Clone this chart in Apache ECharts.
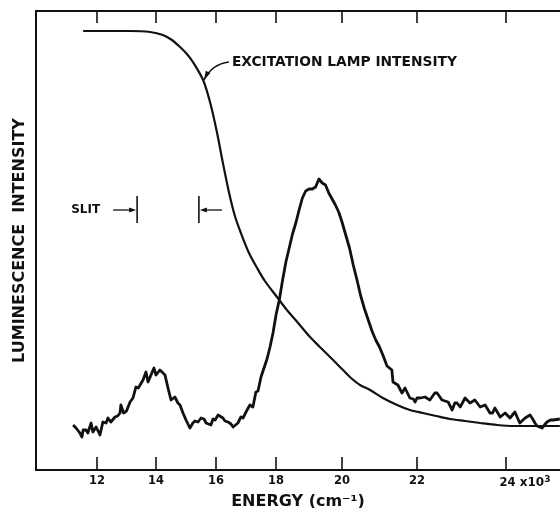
<!DOCTYPE html>
<html>
<head>
<meta charset="utf-8">
<script src="https://cdn.jsdelivr.net/npm/echarts@6/dist/echarts.min.js"></script>
<style>
  html, body { margin: 0; background: #fff; }
  #chart { width: 560px; height: 508px; }
</style>
</head>
<body>
<div id="chart"></div>
<script>
// energy ticks (x10^3 cm^-1) and where they sit along the printed axis
// (the printed energy axis is not uniform, so the axis runs in these units)
const tickEnergy = [12, 14, 16, 18, 20, 22, 24]
const tickPlace = [0, 59, 119, 179, 245, 320, 409]

// excitation lamp intensity curve
const lampEnergy = [11.53, 12.44, 13.12, 13.80, 14.23, 14.53, 14.80, 15.03, 15.23, 15.57, 15.80, 16.03, 16.23, 16.43, 16.63, 16.83, 17.10, 17.37, 17.63, 18.03, 18.33, 18.67, 19.03, 19.33, 19.73, 20.00, 20.21, 20.48, 20.75, 21.09, 21.47, 21.81, 22.13, 22.43, 22.74, 23.08, 23.42, 23.80, 24.16, 24.54, 25.21]
const lampIntensity = [439, 439, 439, 438, 435, 430, 423, 416, 408, 390, 368, 338, 307, 278, 254, 237, 217, 202, 189, 173, 160, 147, 133, 123, 110, 101, 93, 85, 80, 72, 65, 60, 57, 54, 51, 49, 47, 45, 44, 44, 44]

// luminescence spectrum
const lumEnergy = [
  11.19, 11.29, 11.42, 11.49, 11.53, 11.63, 11.69, 11.80, 11.86, 11.97,
  12.10, 12.20, 12.31, 12.37, 12.47, 12.61, 12.70, 12.78, 12.81, 12.90,
  12.95, 13.00, 13.12, 13.22, 13.32, 13.40, 13.46, 13.56, 13.66, 13.73,
  13.83, 13.93, 14.00, 14.13, 14.20, 14.30, 14.40, 14.50, 14.63, 14.73,
  14.80, 14.90, 15.00, 15.13, 15.23, 15.30, 15.40, 15.50, 15.60, 15.67,
  15.83, 15.90, 15.97, 16.07, 16.23, 16.30, 16.40, 16.50, 16.57, 16.73,
  16.83, 16.90, 17.00, 17.13, 17.23, 17.33,
  17.4, 17.5, 17.6, 17.7, 17.8, 17.9, 18.0, 18.1, 18.2, 18.3,
  18.4, 18.5, 18.6, 18.7, 18.8, 18.9, 19.0, 19.1, 19.2, 19.3,
  19.4, 19.5, 19.6, 19.7, 19.8, 19.9, 20.0, 20.1, 20.2, 20.3,
  20.4, 20.5, 20.6, 20.7, 20.8, 20.9, 21.0, 21.1, 21.2,
  21.33, 21.36, 21.49, 21.60, 21.68, 21.81, 21.90, 21.95, 22.00, 22.07,
  22.18, 22.29, 22.40, 22.45, 22.50, 22.56, 22.70, 22.79, 22.85, 22.90,
  22.97, 23.08, 23.19, 23.30, 23.42, 23.53, 23.64, 23.70, 23.75, 23.87,
  23.98, 24.09, 24.20, 24.31, 24.43, 24.54, 24.60, 24.65, 24.70, 24.81,
  24.92, 25.00, 25.06, 25.21
]
const lumIntensity = [
  45, 42, 37, 33, 40, 40, 37, 47, 38, 43,
  35, 48, 47, 52, 48, 53, 54, 57, 65, 57,
  55, 59, 68, 72, 83, 82, 85, 90, 98, 88,
  95, 102, 95, 100, 98, 95, 82, 70, 73, 67,
  65, 57, 50, 42, 47, 49, 48, 52, 51, 47,
  45, 51, 50, 55, 52, 49, 48, 46, 43, 47,
  53, 52, 58, 65, 63, 78,
  79, 93, 102, 111, 123, 137, 155, 170, 190, 208,
  222, 236, 247, 260, 272, 279, 281, 281, 283, 291,
  287, 285, 277, 271, 265, 258, 248, 235, 222, 205,
  190, 174, 161, 150, 139, 130, 123, 114, 104,
  100, 88, 85, 77, 82, 72, 71, 68, 72, 72,
  73, 70, 77, 77, 74, 70, 68, 60, 67, 67,
  63, 72, 67, 70, 63, 65, 57, 57, 62, 53,
  57, 52, 58, 47, 52, 55, 51, 47, 44, 42,
  48, 50, 50, 51
]

// slit width marker and the lamp label anchor
const slitEdges = [13.36, 15.43]
const slitLevel = 260
const lampLabelAt = [16.53, 408]
const lampArrowTip = [15.6, 390]

const ink = '#111'

// energy -> axis position, piecewise along the printed ticks
function toAxis(e) {
  const n = tickEnergy.length
  let i = 1
  while (i < n - 1 && e > tickEnergy[i]) i++
  const e0 = tickEnergy[i - 1], e1 = tickEnergy[i]
  const p0 = tickPlace[i - 1], p1 = tickPlace[i]
  return p0 + (e - e0) * (p1 - p0) / (e1 - e0)
}

function tickLabel(v) {
  const i = tickPlace.indexOf(v)
  if (i < 0) return ''
  if (i === tickPlace.length - 1) return '{pad|}' + tickEnergy[i] + '{x| x10}{sup|3}'
  return String(tickEnergy[i])
}

const chartRef = document.getElementById('chart')
const chart = echarts.init(chartRef)

const option = {
  animation: false,
  backgroundColor: '#fff',
  grid: { left: 36, right: 0, top: 11, bottom: 38, outerBoundsMode: 'none', containLabel: false },
  xAxis: [
    {
      type: 'value',
      min: -61,
      max: 463,
      name: 'ENERGY (cm⁻¹)',
      nameLocation: 'middle',
      nameGap: 20,
      nameTextStyle: { color: ink, fontFamily: 'DejaVu Sans', fontWeight: 'bold', fontSize: 16 },
      axisLine: { lineStyle: { color: ink, width: 2 } },
      axisTick: { inside: true, length: 13, customValues: tickPlace, lineStyle: { color: ink, width: 1.6 } },
      axisLabel: {
        customValues: tickPlace,
        formatter: tickLabel,
        color: ink,
        fontFamily: 'DejaVu Sans',
        fontWeight: 'bold',
        fontSize: 11.5,
        margin: 5,
        rich: {
          pad: { width: 38 },
          x: { fontFamily: 'DejaVu Sans', fontWeight: 'bold', fontSize: 12, color: ink },
          sup: { fontFamily: 'DejaVu Sans', fontWeight: 'bold', fontSize: 9, color: ink, padding: [0, 0, 7, 0] }
        }
      },
      splitLine: { show: false }
    },
    {
      type: 'value',
      position: 'top',
      min: -61,
      max: 463,
      axisLine: { lineStyle: { color: ink, width: 2 } },
      axisTick: { inside: true, length: 12, customValues: tickPlace, lineStyle: { color: ink, width: 1.6 } },
      axisLabel: { show: false },
      splitLine: { show: false }
    }
  ],
  yAxis: {
    type: 'value',
    min: 0,
    max: 459,
    name: 'LUMINESCENCE  INTENSITY',
    nameLocation: 'middle',
    nameGap: 8,
    nameTextStyle: { color: ink, fontFamily: 'DejaVu Sans', fontWeight: 'bold', fontSize: 16 },
    axisLine: { show: true, onZero: false, lineStyle: { color: ink, width: 2 } },
    axisTick: { show: false },
    axisLabel: { show: false },
    splitLine: { show: false }
  },
  series: [
    {
      name: 'lamp',
      type: 'line',
      xAxisIndex: 0,
      data: lampEnergy.map((e, i) => [toAxis(e), lampIntensity[i]]),
      smooth: 0.3,
      symbol: 'none',
      lineStyle: { color: ink, width: 2.2 }
    },
    {
      name: 'luminescence',
      type: 'line',
      xAxisIndex: 0,
      data: lumEnergy.map((e, i) => [toAxis(e), lumIntensity[i]]),
      symbol: 'none',
      lineStyle: { color: ink, width: 2.8, join: 'round' }
    }
  ]
}

chart.setOption(option)

// annotations placed from data coordinates
function px(e, v) {
  return chart.convertToPixel({ xAxisIndex: 0, yAxisIndex: 0 }, [toAxis(e), v])
}

function arrowHead(tip, from, len, half) {
  const dx = tip[0] - from[0], dy = tip[1] - from[1]
  const d = Math.hypot(dx, dy)
  const ux = dx / d, uy = dy / d
  const bx = tip[0] - ux * len, by = tip[1] - uy * len
  return {
    type: 'polygon',
    shape: { points: [tip, [bx - uy * half, by + ux * half], [bx + uy * half, by - ux * half]] },
    style: { fill: ink }
  }
}

const lab = px(lampLabelAt[0], lampLabelAt[1])
const tip = px(lampArrowTip[0], lampArrowTip[1])
const start = [lab[0] - 3, lab[1]]
const ctrl = [tip[0] + 8, lab[1] + 2]

const s1 = px(slitEdges[0], slitLevel)
const s2 = px(slitEdges[1], slitLevel)

chart.setOption({
  graphic: [
    {
      type: 'text',
      x: lab[0], y: lab[1],
      style: { text: 'EXCITATION LAMP INTENSITY', fill: ink, font: 'bold 13.8px "DejaVu Sans"', align: 'left', verticalAlign: 'middle' }
    },
    {
      type: 'bezierCurve',
      shape: { x1: start[0], y1: start[1], x2: tip[0], y2: tip[1], cpx1: ctrl[0], cpy1: ctrl[1] },
      style: { stroke: ink, lineWidth: 1.5, fill: null }
    },
    arrowHead(tip, ctrl, 9, 2.6),
    // slit marker
    {
      type: 'text',
      x: s1[0] - 37, y: s1[1],
      style: { text: 'SLIT', fill: ink, font: 'bold 12px "DejaVu Sans"', align: 'right', verticalAlign: 'middle' }
    },
    { type: 'line', shape: { x1: s1[0] - 24, y1: s1[1], x2: s1[0] - 6, y2: s1[1] }, style: { stroke: ink, lineWidth: 1.3 } },
    arrowHead([s1[0] - 1, s1[1]], [s1[0] - 20, s1[1]], 7, 2.5),
    { type: 'line', shape: { x1: s1[0], y1: s1[1] - 14, x2: s1[0], y2: s1[1] + 13 }, style: { stroke: ink, lineWidth: 1.6 } },
    { type: 'line', shape: { x1: s2[0], y1: s2[1] - 14, x2: s2[0], y2: s2[1] + 13 }, style: { stroke: ink, lineWidth: 1.6 } },
    { type: 'line', shape: { x1: s2[0] + 6, y1: s2[1], x2: s2[0] + 23, y2: s2[1] }, style: { stroke: ink, lineWidth: 1.3 } },
    arrowHead([s2[0] + 1, s2[1]], [s2[0] + 20, s2[1]], 7, 2.5)
  ]
})

window.addEventListener('resize', () => chart.resize())
</script>
</body>
</html>
